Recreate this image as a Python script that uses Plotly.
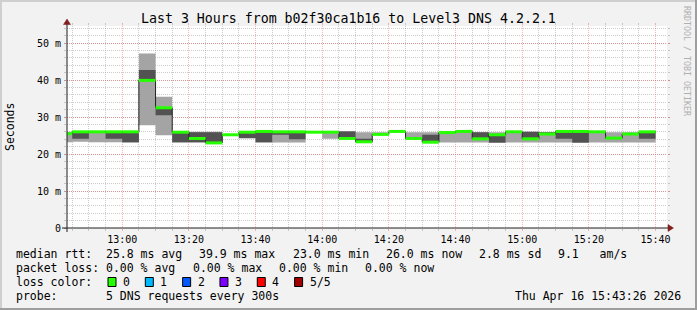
import plotly.graph_objects as go

# ---------------- data ----------------
DAY = "2026-04-16"
interval_start = ["12:40", "12:45", "12:50", "12:55", "13:00", "13:05", "13:10", "13:15",
                  "13:20", "13:25", "13:30", "13:35", "13:40", "13:45", "13:50", "13:55",
                  "14:00", "14:05", "14:10", "14:15", "14:20", "14:25", "14:30", "14:35",
                  "14:40", "14:45", "14:50", "14:55", "15:00", "15:05", "15:10", "15:15",
                  "15:20", "15:25", "15:30", "15:35"]
series_end = "15:40"
view_start = "12:43:26"
view_end = "15:43:26"

median_ms = [25.5, 26.0, 26.0, 26.0, 26.0, 39.9, 32.5, 25.9, 24.2, 23.0, 25.2, 25.9,
             26.1, 26.0, 26.0, 25.9, 25.9, 24.2, 23.3, 25.3, 26.1, 24.2, 23.2, 25.8,
             26.1, 24.1, 25.2, 26.0, 24.1, 25.4, 26.1, 26.1, 26.0, 24.3, 25.4, 26.0]
ping_min_ms = [23.2, 23.3, 23.2, 23.2, 23.1, 27.8, 25.1, 23.1, 23.1, 22.9, 25.1, 24.2,
               23.1, 23.1, 23.1, 25.8, 24.1, 24.1, 23.1, 25.2, 26.0, 24.1, 23.1, 23.1,
               23.1, 23.1, 23.0, 23.1, 23.1, 23.1, 23.1, 23.0, 23.1, 23.1, 23.1, 23.1]
ping_q1_ms = [25.3, 24.1, 26.0, 24.1, 23.2, 39.9, 30.5, 23.2, 23.2, 23.0, 25.2, 24.3,
              23.2, 25.2, 24.0, 25.9, 25.9, 24.2, 23.3, 25.3, 26.1, 24.2, 23.2, 25.8,
              26.0, 24.0, 23.1, 25.7, 24.0, 25.3, 24.1, 23.1, 26.0, 24.2, 25.3, 24.1]
ping_q3_ms = [25.6, 26.0, 26.0, 26.0, 26.0, 42.7, 32.6, 26.0, 25.9, 25.9, 25.3, 25.9,
              26.1, 26.0, 26.0, 25.9, 25.9, 26.1, 24.1, 25.4, 26.1, 24.3, 25.2, 25.8,
              26.1, 25.9, 25.3, 26.0, 26.0, 25.9, 26.1, 26.1, 26.0, 24.4, 25.5, 26.0]
ping_max_ms = [26.0, 26.1, 26.1, 26.0, 26.0, 47.2, 35.5, 26.0, 26.0, 26.0, 25.4, 26.0,
               26.1, 26.0, 26.0, 26.0, 26.0, 26.2, 25.9, 25.9, 26.2, 25.9, 25.9, 25.9,
               26.1, 25.9, 25.9, 26.0, 26.0, 25.9, 26.1, 26.1, 26.1, 25.9, 25.9, 26.1]

y_tick_values = [0, 10, 20, 30, 40, 50]
y_tick_labels = ["0", "10 m", "20 m", "30 m", "40 m", "50 m"]
y_max = 54.6

loss_labels = ["0", "1", "2", "3", "4", "5/5"]
loss_colors = ["#26ff00", "#00b8ff", "#0059ff", "#7e00ff", "#ff0000", "#a10000"]

title_text = "Last 3 Hours from b02f30ca1b16 to Level3 DNS 4.2.2.1"
legend_line1 = ["median rtt:  25.8 ms avg", "39.9 ms max", "23.0 ms min", "26.0 ms now",
                "2.8 ms sd", "9.1   am/s"]
legend_line2 = ["packet loss: 0.00 % avg", "0.00 % max", "0.00 % min", "0.00 % now"]
probe_text = "probe:       5 DNS requests every 300s"
date_text = "Thu Apr 16 15:43:26 2026"
watermark = "RRDTOOL / TOBI OETIKER"

# ---------------- style ----------------
W, H = 697, 310
ML, MR, MT, MB = 67, 30, 26, 82
PW, PH = W - ML - MR, H - MT - MB
MONO = "DejaVu Sans Mono"
BACK = "#f2f2f2"
GRID = "rgba(143,143,143,0.45)"
MGRID = "rgba(230,70,70,0.4)"
ARROW = "#801f1f"
LIGHT = "#a4a4a4"
DARK = "#525252"


def px(x):
    return (x - ML) / PW


def py(y):
    return (H - MB - y) / PH


def ts(t):
    return f"{DAY} {t}"


xs = [ts(t) for t in interval_start] + [ts(series_end)]


def ext(v):
    return list(v) + [v[-1]]


fig = go.Figure()
# outer smoke band
fig.add_trace(go.Scatter(x=xs, y=ext(ping_min_ms), mode="lines", line=dict(width=0, shape="hv"),
                         hoverinfo="skip", showlegend=False))
fig.add_trace(go.Scatter(x=xs, y=ext(ping_max_ms), mode="lines", line=dict(width=0, shape="hv"),
                         fill="tonexty", fillcolor=LIGHT, hoverinfo="skip", showlegend=False))
# inner smoke band
fig.add_trace(go.Scatter(x=xs, y=ext(ping_q1_ms), mode="lines", line=dict(width=0, shape="hv"),
                         hoverinfo="skip", showlegend=False))
fig.add_trace(go.Scatter(x=xs, y=ext(ping_q3_ms), mode="lines", line=dict(width=0, shape="hv"),
                         fill="tonexty", fillcolor=DARK, hoverinfo="skip", showlegend=False))
# thin dark median step
fig.add_trace(go.Scatter(x=xs, y=ext(median_ms), mode="lines",
                         line=dict(width=1, shape="hv", color="#202020"),
                         hoverinfo="skip", showlegend=False))
# green median segments (loss 0)
gx, gy = [], []
for i, m in enumerate(median_ms):
    gx += [xs[i], xs[i + 1], None]
    gy += [m, m, None]
fig.add_trace(go.Scatter(x=gx, y=gy, mode="lines", line=dict(width=3, color=loss_colors[0]),
                         connectgaps=False, hoverinfo="skip", showlegend=False))

shapes = []
# frame shading
shapes.append(dict(type="rect", xref="paper", yref="paper", x0=px(0), x1=px(W), y0=py(0), y1=py(2),
                   fillcolor="#cfcfcf", line=dict(width=0), layer="below"))
shapes.append(dict(type="rect", xref="paper", yref="paper", x0=px(0), x1=px(2), y0=py(0), y1=py(H),
                   fillcolor="#cfcfcf", line=dict(width=0), layer="below"))
shapes.append(dict(type="rect", xref="paper", yref="paper", x0=px(W - 2), x1=px(W), y0=py(0), y1=py(H),
                   fillcolor="#9e9e9e", line=dict(width=0), layer="below"))
shapes.append(dict(type="rect", xref="paper", yref="paper", x0=px(0), x1=px(W), y0=py(H - 2), y1=py(H),
                   fillcolor="#9e9e9e", line=dict(width=0), layer="below"))
# axes
shapes.append(dict(type="line", xref="paper", yref="paper", x0=px(62), x1=px(669), y0=0, y1=0,
                   line=dict(color="#1f1f1f", width=1), layer="above"))
shapes.append(dict(type="line", xref="paper", yref="paper", x0=0, x1=0, y0=py(232), y1=py(23),
                   line=dict(color="#1f1f1f", width=1), layer="above"))
# arrows
shapes.append(dict(type="path", xref="paper", yref="paper",
                   path=f"M {px(668)} {py(224.5)} L {px(673.5)} {py(228)} L {px(668)} {py(231.5)} Z",
                   fillcolor=ARROW, line=dict(color=ARROW, width=0.5), layer="above"))
shapes.append(dict(type="path", xref="paper", yref="paper",
                   path=f"M {px(63.5)} {py(24.5)} L {px(67)} {py(19)} L {px(70.5)} {py(24.5)} Z",
                   fillcolor=ARROW, line=dict(color=ARROW, width=0.5), layer="above"))

annotations = []


def txt(x, y, s, size=11.5, anchor="left", color="#000", angle=0):
    annotations.append(dict(x=px(x), y=py(y), xref="paper", yref="paper", text=s, showarrow=False,
                            xanchor=anchor, yanchor="middle", textangle=angle,
                            font=dict(family=MONO, size=size, color=color),
                            borderpad=0, borderwidth=0))


txt(348.5, 19, title_text, size=13.25, anchor="center")
txt(10, 127, "Seconds", size=11.5, anchor="center", angle=-90)
txt(687, 61, watermark, size=8.3, anchor="center", color="#b0b0b0", angle=90)

CW = 6.92
GAP = 17
x0 = 16.4
# line 1
x = x0
for s in legend_line1:
    txt(x, 254, s)
    x += len(s) * CW + GAP
# line 2
x = x0
for s in legend_line2:
    txt(x, 268, s)
    x += len(s) * CW + GAP
# line 3
txt(x0, 282, "loss color:")
bx = 108
for lab, col in zip(loss_labels, loss_colors):
    shapes.append(dict(type="rect", xref="paper", yref="paper", x0=px(bx), x1=px(bx + 8),
                       y0=py(286.5), y1=py(277.5), fillcolor=col, line=dict(color="#000", width=1),
                       layer="above"))
    txt(bx + 15, 282, lab)
    bx += 15 + len(lab) * CW + 15.4
# line 4
txt(x0, 296, probe_text)
txt(680.5, 296, date_text, anchor="right")

fig.update_layout(
    width=W, height=H, margin=dict(l=ML, r=MR, t=MT, b=MB, pad=0),
    paper_bgcolor=BACK, plot_bgcolor="#ffffff",
    showlegend=False, shapes=shapes, annotations=annotations,
    font=dict(family=MONO, color="#000"),
    xaxis=dict(type="date", range=[ts(view_start), ts(view_end)],
               tick0=ts("13:00"), dtick=1200000, tickformat="%H:%M",
               showgrid=True, gridcolor=MGRID, griddash="1px,1px", gridwidth=1,
               ticks="outside", ticklen=2, tickcolor=MGRID, mirror="ticks",
               showline=False, zeroline=False,
               tickfont=dict(family=MONO, size=10, color="#000"),
               minor=dict(dtick=300000, tick0=ts("13:00"), showgrid=True, gridcolor=GRID,
                          griddash="1px,1px", ticks="outside", ticklen=2, tickcolor=GRID),
               fixedrange=True),
    yaxis=dict(range=[0, y_max], tickvals=y_tick_values, ticktext=y_tick_labels,
               showgrid=True, gridcolor=MGRID, griddash="1px,1px", gridwidth=1,
               ticks="outside", ticklen=2, tickcolor=MGRID, mirror="ticks",
               showline=False, zeroline=False, ticklabelstandoff=1,
               tickfont=dict(family=MONO, size=10, color="#000"),
               minor=dict(dtick=2, tick0=0, showgrid=True, gridcolor=GRID,
                          griddash="1px,1px", ticks="outside", ticklen=2, tickcolor=GRID),
               fixedrange=True),
)

fig.write_html("out.html")
